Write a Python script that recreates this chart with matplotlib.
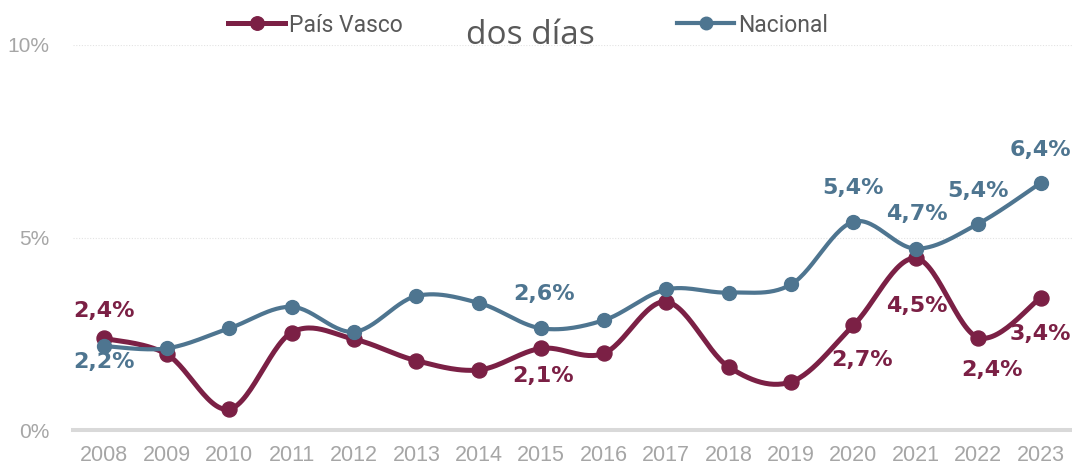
import matplotlib.pyplot as plt
import numpy as np

# data (percent)
years = ['2008', '2009', '2010', '2011', '2012', '2013', '2014', '2015',
         '2016', '2017', '2018', '2019', '2020', '2021', '2022', '2023']
pais_vasco = [2.38, 1.97, 0.54, 2.53, 2.36, 1.80, 1.56, 2.12,
              1.99, 3.33, 1.64, 1.25, 2.72, 4.46, 2.40, 3.44]
nacional = [2.18, 2.12, 2.64, 3.20, 2.55, 3.48, 3.30, 2.64,
            2.85, 3.65, 3.57, 3.78, 5.41, 4.71, 5.36, 6.42]
y_ticks = [0, 5, 10]
title = 'dos días'

# which points get a label, and where the label sits (pixels from the point)
pv_labels = {'2008': (0, 27), '2015': (2, -28), '2020': (9, -35),
             '2021': (1, -48), '2022': (14, -32), '2023': (0, -36)}
nac_labels = {'2008': (0, -16), '2015': (3, 34), '2020': (0, 34),
              '2021': (1, 35), '2022': (0, 33), '2023': (0, 33)}

C_PV = '#7b2045'
C_NAC = '#4e7590'
GREY = '#a6a6a6'


def smooth(x, y, n=30):
    """Excel-like smoothed line (Catmull-Rom bezier through the points)."""
    x = np.asarray(x, float)
    y = np.asarray(y, float)
    px = np.concatenate([[x[0]], x, [x[-1]]])
    py = np.concatenate([[y[0]], y, [y[-1]]])
    t = np.linspace(0, 1, n)[:, None]
    xs, ys = [], []
    for i in range(1, len(px) - 2):
        p0 = np.array([px[i], py[i]])
        p3 = np.array([px[i + 1], py[i + 1]])
        p1 = p0 + (p3 - np.array([px[i - 1], py[i - 1]])) / 6
        p2 = p3 - (np.array([px[i + 2], py[i + 2]]) - p0) / 6
        b = ((1 - t) ** 3) * p0 + 3 * ((1 - t) ** 2) * t * p1 \
            + 3 * (1 - t) * t ** 2 * p2 + t ** 3 * p3
        xs.append(b[:, 0])
        ys.append(b[:, 1])
    return np.concatenate(xs), np.concatenate(ys)


fig = plt.figure(figsize=(10.72, 4.68), dpi=100)
ax = fig.add_axes([73 / 1072, 1 - 430 / 468, 1 - 73 / 1072, (430 - 45) / 468])
xi = np.arange(len(years))

series = [('País Vasco', pais_vasco, C_PV, 3.6, 10.8, pv_labels),
          ('Nacional', nacional, C_NAC, 3.0, 10.0, nac_labels)]
handles = []
for z, (name, vals, col, lw, ms, labs) in enumerate(series):
    sx, sy = smooth(xi, vals)
    ax.plot(sx, sy, color=col, lw=lw, solid_capstyle='round', zorder=3 + 2 * z)
    ax.plot(xi, vals, 'o', color=col, ms=ms, zorder=4 + 2 * z)
    h, = ax.plot([], [], color=col, lw=lw, marker='o', ms=ms * 0.9)
    handles.append(h)
    for yr, (dx, dy) in labs.items():
        i = years.index(yr)
        txt = f'{vals[i]:.1f}'.replace('.', ',') + '%'
        ax.annotate(txt, (i, vals[i]), xytext=(dx, dy), textcoords='offset pixels',
                    ha='center', va='center', color=col, fontsize=16,
                    fontweight='bold', family='DejaVu Sans', zorder=10,
                    annotation_clip=False)

ax.set_xlim(-0.5, len(years) - 0.5)
ax.set_ylim(0, 10)
ax.set_xticks(xi)
ax.set_xticklabels(years, family='Liberation Sans', fontsize=15.5, color=GREY)
ax.set_yticks(y_ticks)
ax.set_yticklabels([f'{v}%' for v in y_ticks], family='Liberation Sans',
                   fontsize=15, color=GREY)
ax.tick_params(axis='x', length=0, pad=11)
ax.tick_params(axis='y', length=0, pad=17)
for y in y_ticks[1:]:
    ax.axhline(y, color='#e3e3e3', lw=0.8, ls=(0, (1, 1.5)), zorder=1)
for s in ['top', 'right', 'left']:
    ax.spines[s].set_visible(False)
ax.spines['bottom'].set_color('#d9d9d9')
ax.spines['bottom'].set_linewidth(2.9)
ax.spines['bottom'].set_zorder(2)

fig.text(0.495, 1 - 44 / 468, title, ha='center', va='baseline',
         fontsize=24, color='#595959', family='Open Sans')

legend_font = {'family': ['Liberation Sans Narrow', 'Roboto'], 'size': 16.5}
for h, name, x0 in [(handles[0], 'País Vasco', 228), (handles[1], 'Nacional', 677)]:
    fig.legend([h], [name], loc='center left', bbox_to_anchor=(x0 / 1072, 1 - 25 / 468),
               frameon=False, borderpad=0, borderaxespad=0, handlelength=2.5,
               handletextpad=0.15, prop=legend_font, labelcolor='#595959')

fig.savefig('out.png', dpi=100)
